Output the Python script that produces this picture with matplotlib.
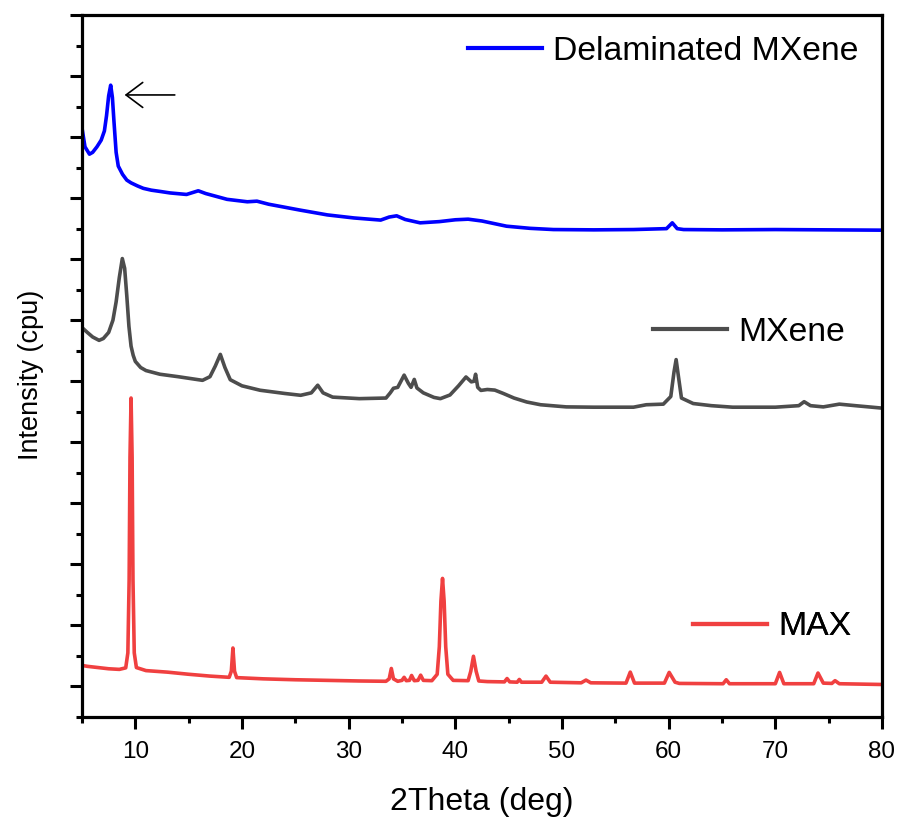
import matplotlib
matplotlib.use("Agg")
import matplotlib.pyplot as plt
from matplotlib.ticker import MultipleLocator, NullFormatter
from matplotlib.lines import Line2D

plt.rcParams['font.family'] = ['Liberation Sans', 'DejaVu Sans']

# ---- XRD patterns (2-theta in degrees, intensity in counts, stacked offsets included) ----
max_2theta = [5.0, 5.5, 6.5, 7.5, 8.5, 9.1, 9.3, 9.42, 9.5, 9.6, 9.7, 9.78, 9.9, 10.1, 11, 13, 15, 17,
              18.8, 19.0, 19.15, 19.3, 19.5, 22, 25, 28, 31, 33.5, 33.8, 34.0, 34.2, 34.6,
              35.0, 35.2, 35.4, 35.7, 35.9, 36.15, 36.5, 36.75, 37.0, 37.8, 38.3, 38.5, 38.65, 38.8,
              38.95, 39.1, 39.3, 39.8, 41.2, 41.45, 41.7, 41.95, 42.2, 43, 44.6, 44.85, 45.1, 45.8,
              46.0, 46.2, 48.1, 48.5, 48.9, 51.8, 52.25, 52.7, 56.0, 56.4, 56.8, 59.6, 60.05,
              60.6, 61.0, 65.1, 65.4, 65.7, 70.0, 70.4, 70.8, 73.6, 74.0, 74.5, 75.3, 75.6,
              76.0, 80.0]
max_counts = [690, 660, 620, 580, 560, 610, 1100, 3500, 7500, 9450, 7500, 3500, 1100, 620, 520, 470, 400, 340,
              300, 500, 1260, 500, 290, 250, 220, 200, 180, 170, 250, 590, 250, 170,
              200, 300, 190, 200, 360, 190, 200, 370, 200, 190, 400, 1300, 2800, 3540,
              2800, 1300, 400, 200, 190, 500, 990, 500, 180, 160, 150, 260, 150, 140,
              230, 140, 140, 340, 140, 120, 210, 120, 110, 470, 110, 110, 460,
              140, 100, 90, 220, 90, 90, 460, 90, 90, 440, 110, 100, 190,
              90, 65]

mxene_2theta = [5.0, 5.5, 6.0, 6.6, 7.0, 7.5, 7.9, 8.2, 8.5, 8.78, 9.0, 9.2, 9.4, 9.6, 9.8, 10.0,
                10.5, 11, 12.3, 14,
                16.3, 17.0, 17.5, 17.97, 18.4, 18.9, 20, 21.7, 24, 25.5, 26.5, 27.1, 27.6, 28.5,
                31, 33.5, 33.9, 34.2, 34.6, 35.2, 35.6, 35.85, 36.15, 36.4, 37.0, 38.0, 38.6,
                39.5, 40.3, 41.0, 41.5, 41.75, 41.9, 42.1, 42.4, 43.0, 43.7, 44.5, 45.5, 46.7,
                48, 50.4, 53, 56.7, 57.9, 59.5, 60.2, 60.5, 60.7, 60.9, 61.2, 62.3, 64, 66, 70,
                72.2, 72.7, 73.3, 74.5, 76, 77.5, 80]
mxene_counts = [11760, 11600, 11450, 11340, 11400, 11600, 12000, 12600, 13400, 14020, 13700, 12800,
                11800, 11150, 10850, 10650, 10450,
                10350, 10230, 10150, 10030, 10150, 10500, 10880, 10450, 10050, 9850, 9705,
                9600, 9540, 9620, 9870, 9620, 9480, 9430, 9450, 9620, 9770, 9800, 10200, 9930,
                9800, 10060, 9780, 9620, 9470, 9430, 9550, 9850, 10140, 9980, 10000, 10230, 9800,
                9700, 9730, 9710, 9600, 9450, 9320, 9230, 9160, 9150, 9150, 9230, 9250, 9500,
                10300, 10710, 10200, 9450, 9270, 9200, 9150, 9150, 9200, 9330, 9200, 9160, 9250,
                9200, 9120]

delam_2theta = [5.0, 5.28, 5.7, 6.0, 6.4, 6.8, 7.1, 7.3, 7.5, 7.69, 7.85, 8.0, 8.2, 8.4, 8.8,
                9.2, 9.6, 10.2, 10.75, 11.5, 12.3,
                13.25, 14.8, 15.9, 16.6, 18.6, 20.5, 21.4, 22.5, 25.4, 28, 30.5, 33.0, 33.8,
                34.5, 35.3, 36.7, 38.5, 40, 41.2, 42.5, 44.8, 47, 49.2, 53, 56.7, 59.8, 60.34,
                60.8, 61.4, 65, 70, 75, 80]
delam_counts = [18300, 17680, 17440, 17500, 17680, 17900, 18200, 18700, 19350, 19700, 19300, 18500,
                17500, 17050, 16780, 16590, 16500, 16400, 16320, 16260, 16220,
                16170, 16120, 16240, 16150, 15960, 15880, 15900, 15800, 15610, 15450,
                15350, 15280, 15380, 15420, 15300, 15190, 15230, 15290, 15310, 15250, 15080, 15010,
                14970, 14960, 14970, 15000, 15190, 15000, 14970, 14960, 14970, 14960, 14950]

series_names = ["Delaminated MXene", "MXene", "MAX"]
series_colors = ["#0000ff", "#4d4d4d", "#f04040"]

fig = plt.figure(figsize=(9.01, 8.23), dpi=100)
ax = fig.add_axes([0.0910, 0.1288, 0.8879, 0.8530])

curves = [(delam_2theta, delam_counts), (mxene_2theta, mxene_counts), (max_2theta, max_counts)]
handles = []
for (x, y), name, color in zip(curves, series_names, series_colors):
    h, = ax.plot(x, y, color=color, lw=2.6, solid_joinstyle='round', label=name)
    handles.append(h)

ax.set_xlim(5, 80)
ax.set_ylim(-1000, 22000)

ax.xaxis.set_major_locator(MultipleLocator(10))
ax.xaxis.set_minor_locator(MultipleLocator(5))
ax.yaxis.set_major_locator(MultipleLocator(2000))
ax.yaxis.set_minor_locator(MultipleLocator(1000))
ax.yaxis.set_major_formatter(NullFormatter())

ax.tick_params(which='both', direction='out', top=False, right=False, width=2.2)
ax.tick_params(which='major', length=8.5, labelsize=17.5, pad=9)
ax.tick_params(which='minor', length=4.3)
for sp in ax.spines.values():
    sp.set_linewidth(2.3)

ax.set_xlabel("2Theta (deg)", fontsize=23, labelpad=17)
ax.set_ylabel("Intensity (cpu)", fontsize=19.5)
ax.yaxis.set_label_coords(-0.047, 0.487)

# individual legend labels next to each curve
legend_pos = [(0.4825, 0.9477), (0.714, 0.5474), (0.764, 0.1282)]
for h, pos in zip(handles, legend_pos):
    lg = ax.legend(handles=[Line2D([], [], color=h.get_color(), lw=3)], labels=[h.get_label()],
                   loc='center left', bbox_to_anchor=pos, frameon=False, fontsize=24.3,
                   handlelength=2.2, handletextpad=0.32, borderpad=0, borderaxespad=0)
    ax.add_artist(lg)

# arrow marking the shifted (002) reflection
ax.annotate("", xy=(9.0, 19380), xytext=(13.7, 19380),
            arrowprops=dict(arrowstyle='->,head_length=0.6,head_width=0.45', lw=1.2,
                            color='black', mutation_scale=20, shrinkA=0, shrinkB=0))

fig.savefig("out.png", dpi=100)
